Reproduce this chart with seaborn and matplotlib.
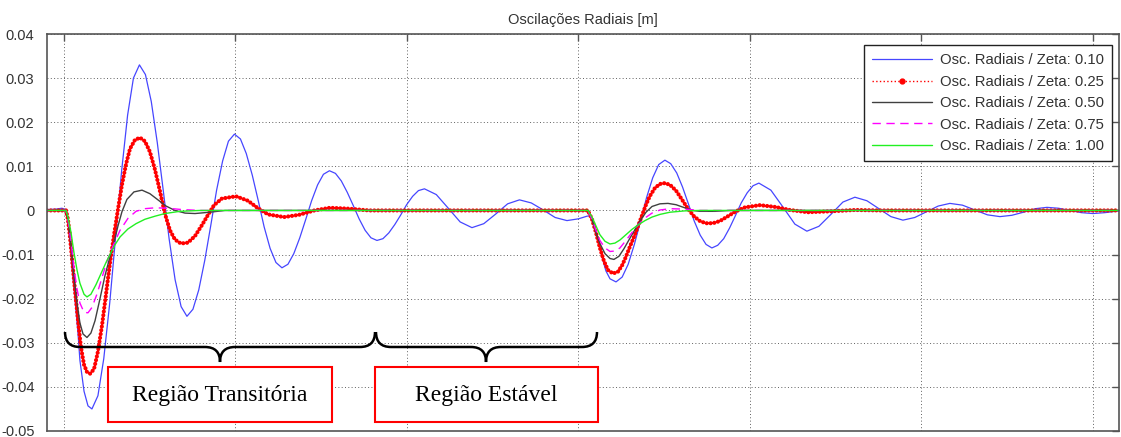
import pandas as pd
import matplotlib
matplotlib.use('Agg')
import matplotlib.pyplot as plt
import matplotlib.transforms as mtransforms
from matplotlib.lines import Line2D
from matplotlib.patches import Rectangle, PathPatch
from matplotlib.path import Path
from matplotlib.ticker import MultipleLocator, FuncFormatter
import seaborn as sns

# tempo (uma divisão da grade = 10 s) e oscilações radiais [m]
t_z010 = [-0.99, -0.47, -0.12, 0.12, 0.23, 0.35, 0.47, 0.64, 0.82, 0.93, 1.17, 1.40,
          1.63, 1.98, 2.32, 2.67, 3.01, 3.36, 3.71, 4.05,
          4.40, 4.75, 5.09, 5.44, 5.79, 6.13, 6.48, 6.83,
          7.17, 7.52, 7.86, 8.21, 8.56, 8.90, 9.25, 9.59,
          9.94, 10.29, 10.63, 10.98, 11.33, 11.67, 12.02, 12.36,
          12.71, 13.06, 13.40, 13.75, 14.10, 14.44, 14.79, 15.13,
          15.48, 15.83, 16.17, 16.52, 16.87, 17.21, 17.56, 17.90,
          18.25, 18.60, 18.94, 19.29, 19.64, 19.98, 20.33, 20.67,
          21.02, 21.71, 22.41, 23.10,
          23.79, 24.48, 25.18, 25.87,
          26.56, 27.25, 27.95, 28.64,
          29.33, 30.00, 30.50, 30.67, 30.90, 31.14, 31.37, 31.60, 31.84,
          32.19, 32.55, 32.90, 33.26, 33.62, 33.97, 34.33, 34.68,
          35.04, 35.38, 35.73, 36.07, 36.41, 36.75, 37.10, 37.44,
          37.78, 38.12, 38.47, 38.81, 39.15, 39.49, 39.84, 40.18,
          40.52, 41.22, 41.92, 42.62,
          43.32, 44.02, 44.72, 45.42,
          46.12, 46.82, 47.52, 48.22,
          48.92, 49.61, 50.29, 50.98,
          51.66, 52.39, 53.12, 53.85,
          54.58, 55.27, 55.95, 56.64,
          57.32, 57.99, 58.66, 59.33,
          60.00, 60.70, 61.52]
osc_z010 = [0.0002, 0.0003, 0.0005, 0.0002, -0.002, -0.007, -0.013, -0.020, -0.028, -0.034, -0.041, -0.0443,
            -0.0450, -0.0420, -0.0336, -0.0209, -0.0060, 0.0089, 0.0216, 0.0300,
            0.0330, 0.0308, 0.0247, 0.0154, 0.0045, -0.0064, -0.0157, -0.0218,
            -0.0240, -0.0224, -0.0180, -0.0113, -0.0034, 0.0046, 0.0112, 0.0157,
            0.0173, 0.0162, 0.0129, 0.0080, 0.0022, -0.0037, -0.0086, -0.0118,
            -0.0130, -0.0122, -0.0098, -0.0062, -0.0020, 0.0022, 0.0058, 0.0082,
            0.0090, 0.0084, 0.0067, 0.0041, 0.0011, -0.0019, -0.0045, -0.0062,
            -0.0068, -0.0064, -0.0051, -0.0032, -0.0010, 0.0013, 0.0032, 0.0045,
            0.0049, 0.0036, 0.0005, -0.0026,
            -0.0039, -0.0030, -0.0008, 0.0015,
            0.0024, 0.0017, 0.0001, -0.0016,
            -0.0023, -0.0019, -0.0013, -0.0012, -0.0030, -0.0065, -0.0105, -0.0137, -0.0155,
            -0.0162, -0.0151, -0.0122, -0.0077, -0.0024, 0.0029, 0.0074, 0.0104,
            0.0114, 0.0106, 0.0085, 0.0053, 0.0015, -0.0024, -0.0056, -0.0077,
            -0.0085, -0.0079, -0.0064, -0.0040, -0.0012, 0.0017, 0.0040, 0.0056,
            0.0062, 0.0046, 0.0008, -0.0031,
            -0.0047, -0.0036, -0.0009, 0.0019,
            0.0030, 0.0022, 0.0004, -0.0014,
            -0.0022, -0.0016, -0.0003, 0.0010,
            0.0016, 0.0012, 0.0001, -0.0010,
            -0.0014, -0.0011, -0.0004, 0.0004,
            0.0007, 0.0005, 0.0000, -0.0005,
            -0.0007, -0.0005, -0.0001]

t_z025 = [-0.99, 0.12, 0.23, 0.35, 0.47, 0.64, 0.82, 0.99, 1.17, 1.34,
          1.52, 1.75, 1.98, 2.22, 2.45, 2.68, 2.92, 3.15, 3.38, 3.62,
          3.85, 4.14, 4.43, 4.72, 5.01, 5.31, 5.60, 5.89, 6.18, 6.47,
          6.82, 7.23, 7.64, 8.05, 8.40, 8.75, 9.21, 10.03, 10.73, 11.31,
          11.90, 12.83, 13.70, 14.60, 15.50, 16.60, 17.80,
          30.55, 30.79, 31.02, 31.25, 31.49, 31.72, 32.01, 32.30, 32.54, 32.77,
          33.00, 33.24, 33.47, 33.70, 33.94, 34.17, 34.46, 34.75, 35.04, 35.34,
          35.69, 36.03, 36.38, 36.73, 37.08, 37.43, 37.84, 38.25, 38.72, 39.18,
          39.71, 40.58, 41.46, 42.33, 43.38, 44.66, 46.12, 47.58, 61.52]
osc_z025 = [0.0, 0.0, -0.002, -0.006, -0.011, -0.018, -0.025, -0.031, -0.035, -0.0366,
            -0.037, -0.036, -0.032, -0.026, -0.019, -0.012, -0.0055, 0.0003, 0.0058, 0.0105,
            0.0140, 0.0160, 0.0165, 0.0157, 0.0133, 0.0092, 0.0043, -0.0008, -0.0045, -0.0066,
            -0.0075, -0.0073, -0.0058, -0.0033, -0.0010, 0.0012, 0.0027, 0.0032, 0.0022, 0.0005,
            -0.0009, -0.0015, -0.0010, 0.0, 0.0006, 0.0004, 0.0,
            0.0, -0.002, -0.005, -0.0085, -0.0115, -0.0135, -0.0143, -0.0139, -0.0125, -0.0105,
            -0.0082, -0.0060, -0.0036, -0.0012, 0.0013, 0.0033, 0.0051, 0.0060, 0.0062, 0.0058,
            0.0045, 0.0025, 0.0004, -0.0013, -0.0024, -0.0029, -0.0029, -0.0024, -0.0013, -0.0002,
            0.0007, 0.0012, 0.0008, 0.0001, -0.0004, -0.0002, 0.0001, 0.0, 0.0]

t_z050 = [-0.99, 0.12, 0.23, 0.41, 0.58, 0.76, 0.93, 1.11, 1.34, 1.57,
          1.81, 2.10, 2.39, 2.68, 2.86, 3.15, 3.38, 3.67, 4.08, 4.55,
          5.01, 5.48, 5.95, 6.47, 7.06, 7.64, 8.51, 9.39,
          30.55, 30.79, 31.02, 31.25, 31.55, 31.84, 32.07, 32.36, 32.65, 33.00,
          33.35, 33.59, 33.94, 34.29, 34.75, 35.22, 35.69, 36.20, 36.67, 37.08,
          37.96, 38.83, 61.52]
osc_z050 = [0.0, 0.0, -0.002, -0.008, -0.015, -0.021, -0.0255, -0.028, -0.0288, -0.0278,
            -0.025, -0.020, -0.0148, -0.0105, -0.0082, -0.0035, -0.0003, 0.0025, 0.0042, 0.0046,
            0.0038, 0.0024, 0.0010, 0.0, -0.0006, -0.0007, -0.0004, 0.0,
            0.0, -0.002, -0.005, -0.0075, -0.0098, -0.0109, -0.0111, -0.0104, -0.0087, -0.0063,
            -0.0040, -0.0024, -0.0004, 0.0009, 0.0015, 0.0016, 0.0013, 0.0006, 0.0, -0.0002,
            -0.0002, 0.0, 0.0]

t_z075 = [-0.99, 0.12, 0.23, 0.41, 0.58, 0.76, 0.93, 1.17, 1.40, 1.63, 1.92,
          2.22, 2.51, 2.86, 3.27, 3.73, 4.20, 4.72, 5.31, 6.06, 6.88, 7.93,
          30.55, 30.79, 31.02, 31.25, 31.55, 31.84, 32.13, 32.42, 32.77,
          33.12, 33.47, 33.88, 34.29, 34.75, 35.34, 36.20, 37.08, 61.52]
osc_z075 = [0.0, 0.0, -0.002, -0.007, -0.013, -0.0178, -0.021, -0.0231, -0.0232, -0.022, -0.019,
            -0.0152, -0.0115, -0.0080, -0.0045, -0.0018, -0.0002, 0.0004, 0.0006, 0.0005, 0.0002, 0.0,
            0.0, -0.002, -0.0045, -0.0068, -0.0085, -0.0093, -0.0092, -0.0085, -0.0068,
            -0.0050, -0.0033, -0.0017, -0.0006, 0.0001, 0.0004, 0.0003, 0.0, 0.0]

t_z100 = [-0.99, 0.12, 0.23, 0.41, 0.58, 0.76, 0.93, 1.17, 1.34, 1.57, 1.87, 2.16,
          2.45, 2.68, 2.97, 3.27, 3.73, 4.20, 4.72, 5.31, 5.89, 6.76, 7.93,
          30.55, 30.79, 31.02, 31.25, 31.55, 31.84, 32.13, 32.42, 32.77,
          33.12, 33.47, 33.88, 34.29, 34.75, 35.34, 36.20, 37.08, 61.52]
osc_z100 = [0.0, 0.0, -0.0015, -0.005, -0.0095, -0.0135, -0.0165, -0.019, -0.0196, -0.019, -0.0168, -0.0143,
            -0.0118, -0.0100, -0.0078, -0.0060, -0.0042, -0.0030, -0.0020, -0.0013, -0.0007, -0.0002, 0.0,
            0.0, -0.0015, -0.0035, -0.0055, -0.0070, -0.0076, -0.0074, -0.0067, -0.0055,
            -0.0043, -0.0033, -0.0023, -0.0015, -0.0009, -0.0004, -0.0001, 0.0, 0.0]

legendas = ['Osc. Radiais / Zeta: 0.10', 'Osc. Radiais / Zeta: 0.25', 'Osc. Radiais / Zeta: 0.50',
            'Osc. Radiais / Zeta: 0.75', 'Osc. Radiais / Zeta: 1.00']

series = [
    (t_z010, osc_z010, dict(color='#4646ff', lw=0.9)),
    (t_z025, osc_z025, dict(color='#ff0000', lw=3.0, linestyle=(0, (0.01, 0.9)), dash_capstyle='round')),
    (t_z050, osc_z050, dict(color='#404040', lw=1.0)),
    (t_z075, osc_z075, dict(color='#ff00ff', lw=1.0, linestyle=(0, (6, 4)))),
    (t_z100, osc_z100, dict(color='#22f022', lw=1.0)),
]

sns.set_theme(style='white')
plt.rcParams['font.family'] = ['Liberation Sans', 'DejaVu Sans']
plt.rcParams['axes.unicode_minus'] = False

fig = plt.figure(figsize=(11.21, 4.37), dpi=100)
ax = fig.add_axes([47 / 1121, 6 / 437, 1072 / 1121, 397 / 437])

linhas = []
for t, osc, estilo in series:
    df = pd.DataFrame({'t': t, 'osc': osc})
    sns.lineplot(data=df, x='t', y='osc', ax=ax, estimator=None, sort=False, **estilo)
    linhas.append(ax.lines[-1])

ax.set_xlim(-0.99, 61.52)
ax.set_ylim(-0.05, 0.04)
ax.set_xlabel('')
ax.set_ylabel('')
ax.xaxis.set_major_locator(MultipleLocator(10))
ax.yaxis.set_major_locator(MultipleLocator(0.01))
ax.yaxis.set_major_formatter(FuncFormatter(lambda v, p: '0' if abs(v) < 1e-9 else f'{round(v, 4):g}'))
ax.grid(True, linestyle=(0, (1, 2.4)), color='#606060', linewidth=0.7)
ax.tick_params(axis='both', direction='in', length=5, width=1, color='#555555',
               top=True, right=True, labelsize=10.5, labelcolor='#333333', pad=9)
ax.tick_params(axis='x', labelbottom=False)
for s in ax.spines.values():
    s.set_color('#555555')
    s.set_linewidth(1.2)

ax.set_title('Oscilações Radiais [m]', fontsize=10.5, color='#333333', pad=7)

# legenda no estilo do MATLAB
h_red = Line2D([], [], color='#ff0000', lw=1, linestyle=':', marker='.', markersize=7)
handles = [linhas[0], h_red, linhas[2], linhas[3], linhas[4]]
leg = ax.legend(handles, legendas, loc='upper right', bbox_to_anchor=(0.9935, 0.972),
                borderaxespad=0, fontsize=10.7, handlelength=4.0, handletextpad=0.55,
                labelspacing=0.5, numpoints=1, fancybox=False, framealpha=1,
                edgecolor='#222222', borderpad=0.55)
leg.get_frame().set_linewidth(1.0)
for txt in leg.get_texts():
    txt.set_color('#333333')

# chaves e caixas das regiões (coordenadas em pixels da figura)
px = mtransforms.Affine2D().scale(1 / 1121, -1 / 437).translate(0, 1) + fig.transFigure

def chave(x0, xm, x1, ytop=332, ybar=347, ytip=362, r=15):
    verts = [(x0, ytop), (x0, ybar), (x0 + r, ybar), (xm - r, ybar), (xm, ybar), (xm, ytip),
             (xm, ybar), (xm + r, ybar), (x1 - r, ybar), (x1, ybar), (x1, ytop)]
    codes = [Path.MOVETO, Path.CURVE3, Path.CURVE3, Path.LINETO, Path.CURVE3, Path.CURVE3,
             Path.CURVE3, Path.CURVE3, Path.LINETO, Path.CURVE3, Path.CURVE3]
    ax.add_patch(PathPatch(Path(verts, codes), fill=False, lw=1.8, color='black',
                           transform=px, clip_on=False, zorder=5))

chave(65, 220, 375)
chave(376, 486, 597)

for x0, w, texto in [(108, 224, 'Região Transitória'), (375, 223, 'Região Estável')]:
    ax.add_patch(Rectangle((x0, 367), w, 55, facecolor='white', edgecolor='#ff0000', lw=1.5,
                           transform=px, clip_on=False, zorder=6))
    ax.text(x0 + w / 2, 395, texto, transform=px, ha='center', va='center', fontsize=17,
            family=['Liberation Serif', 'DejaVu Serif'], color='black', zorder=7)

fig.savefig('out.png', dpi=100)
